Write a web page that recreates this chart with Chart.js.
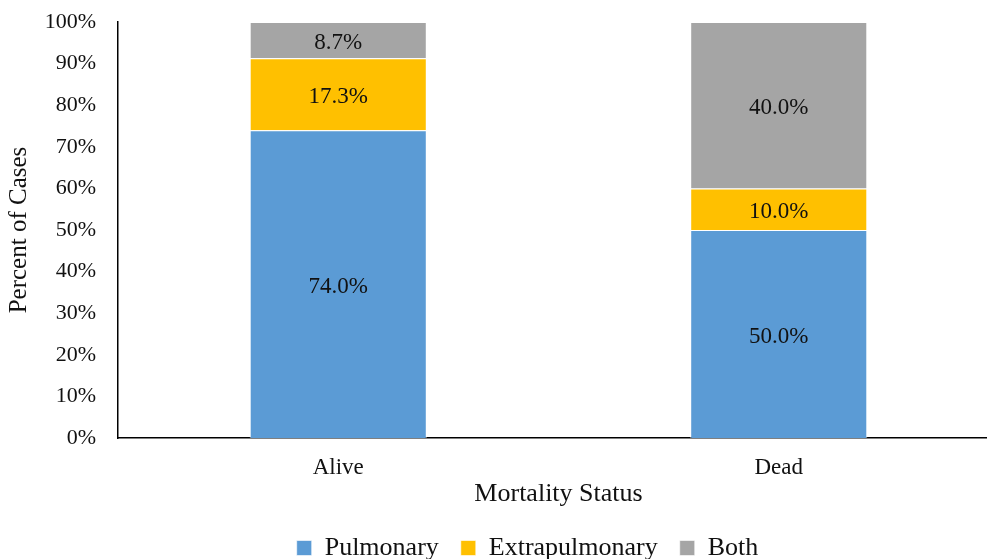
<!DOCTYPE html>
<html>
<head>
<meta charset="utf-8">
<script src="https://cdn.jsdelivr.net/npm/chart.js@4"></script>
<style>
  html, body { margin: 0; padding: 0; background: #fff; overflow: hidden; }
  #wrap { width: 999px; height: 559px; }
</style>
</head>
<body>
<div id="wrap"><canvas id="mortalityChart"></canvas></div>
<script>
// Dados do gráfico
const categories = ["Alive", "Dead"];
const pulmonary = [74.0, 50.0];
const extrapulmonary = [17.3, 10.0];
const both = [8.7, 40.0];
const yTicks = [0, 10, 20, 30, 40, 50, 60, 70, 80, 90, 100];

const serif = "'Liberation Serif', 'Times New Roman', serif";
const textColor = "#111";

// Rótulos dentro das barras
const barLabels = {
    id: "barLabels",
    afterDatasetsDraw(chart) {
        const ctx = chart.ctx;
        ctx.save();
        ctx.font = "23px " + serif;
        ctx.fillStyle = textColor;
        ctx.textAlign = "center";
        ctx.textBaseline = "middle";
        chart.data.datasets.forEach((ds, i) => {
            const meta = chart.getDatasetMeta(i);
            meta.data.forEach((bar, j) => {
                const p = bar.getProps(["x", "y", "base"], true);
                ctx.fillText(ds.data[j].toFixed(1) + "%", p.x, (p.y + p.base) / 2 + 3);
            });
        });
        ctx.restore();
    }
};

// Legenda: altura menor e deslocada para a direita
const legendTweak = {
    id: "legendTweak",
    beforeInit(chart) {
        const lg = chart.legend;
        const origFit = lg.fit;
        lg.fit = function () {
            origFit.bind(lg)();
            this.height = 46;
        };
        const origDraw = lg.draw;
        lg.draw = function () {
            const c = chart.ctx;
            c.save();
            c.translate(28, 0);
            origDraw.apply(lg, arguments);
            c.restore();
        };
    }
};

const ctx = document.getElementById("mortalityChart").getContext("2d");

new Chart(ctx, {
    type: "bar",
    data: {
        labels: categories,
        datasets: [
            { label: "Pulmonary", data: pulmonary, backgroundColor: "#5B9BD5" },
            { label: "Extrapulmonary", data: extrapulmonary, backgroundColor: "#FFC000" },
            { label: "Both", data: both, backgroundColor: "#A5A5A5" }
        ]
    },
    options: {
        responsive: true,
        maintainAspectRatio: false,
        animation: false,
        layout: { padding: { top: 22, right: 0, left: 0, bottom: 0 } },
        datasets: {
            bar: {
                categoryPercentage: 1,
                barPercentage: 0.402,
                borderWidth: 1,
                borderColor: "rgba(255,255,255,0.6)"
            }
        },
        scales: {
            x: {
                stacked: true,
                grid: { display: false, drawTicks: false },
                border: { display: true, color: "#000", width: 1.5 },
                ticks: { font: { family: serif, size: 23 }, color: textColor, padding: 16 },
                title: {
                    display: true,
                    text: "Mortality Status",
                    font: { family: serif, size: 26 },
                    color: textColor,
                    padding: { top: 0, bottom: 3 }
                },
                afterFit(scale) {
                    scale.height = 75;
                    scale.paddingLeft = 0;
                    scale.paddingRight = 0;
                }
            },
            y: {
                stacked: true,
                min: 0,
                max: 100,
                grid: { display: false, drawTicks: false },
                border: { display: true, color: "#000", width: 1.5 },
                afterBuildTicks(scale) { scale.ticks = yTicks.map(v => ({ value: v })); },
                ticks: {
                    font: { family: serif, size: 22 },
                    color: textColor,
                    padding: 22,
                    callback: v => v + "%"
                },
                title: {
                    display: true,
                    text: "Percent of Cases",
                    font: { family: serif, size: 25 },
                    color: textColor,
                    padding: { top: 4, bottom: 4 }
                },
                afterFit(scale) {
                    scale.width = 118;
                    scale.paddingTop = 0;
                    scale.paddingBottom = 0;
                }
            }
        },
        plugins: {
            legend: {
                position: "bottom",
                labels: {
                    font: { family: serif, size: 26 },
                    color: textColor,
                    boxWidth: 15,
                    boxHeight: 15,
                    padding: 22
                }
            },
            tooltip: { enabled: false }
        }
    },
    plugins: [barLabels, legendTweak]
});
</script>
</body>
</html>
